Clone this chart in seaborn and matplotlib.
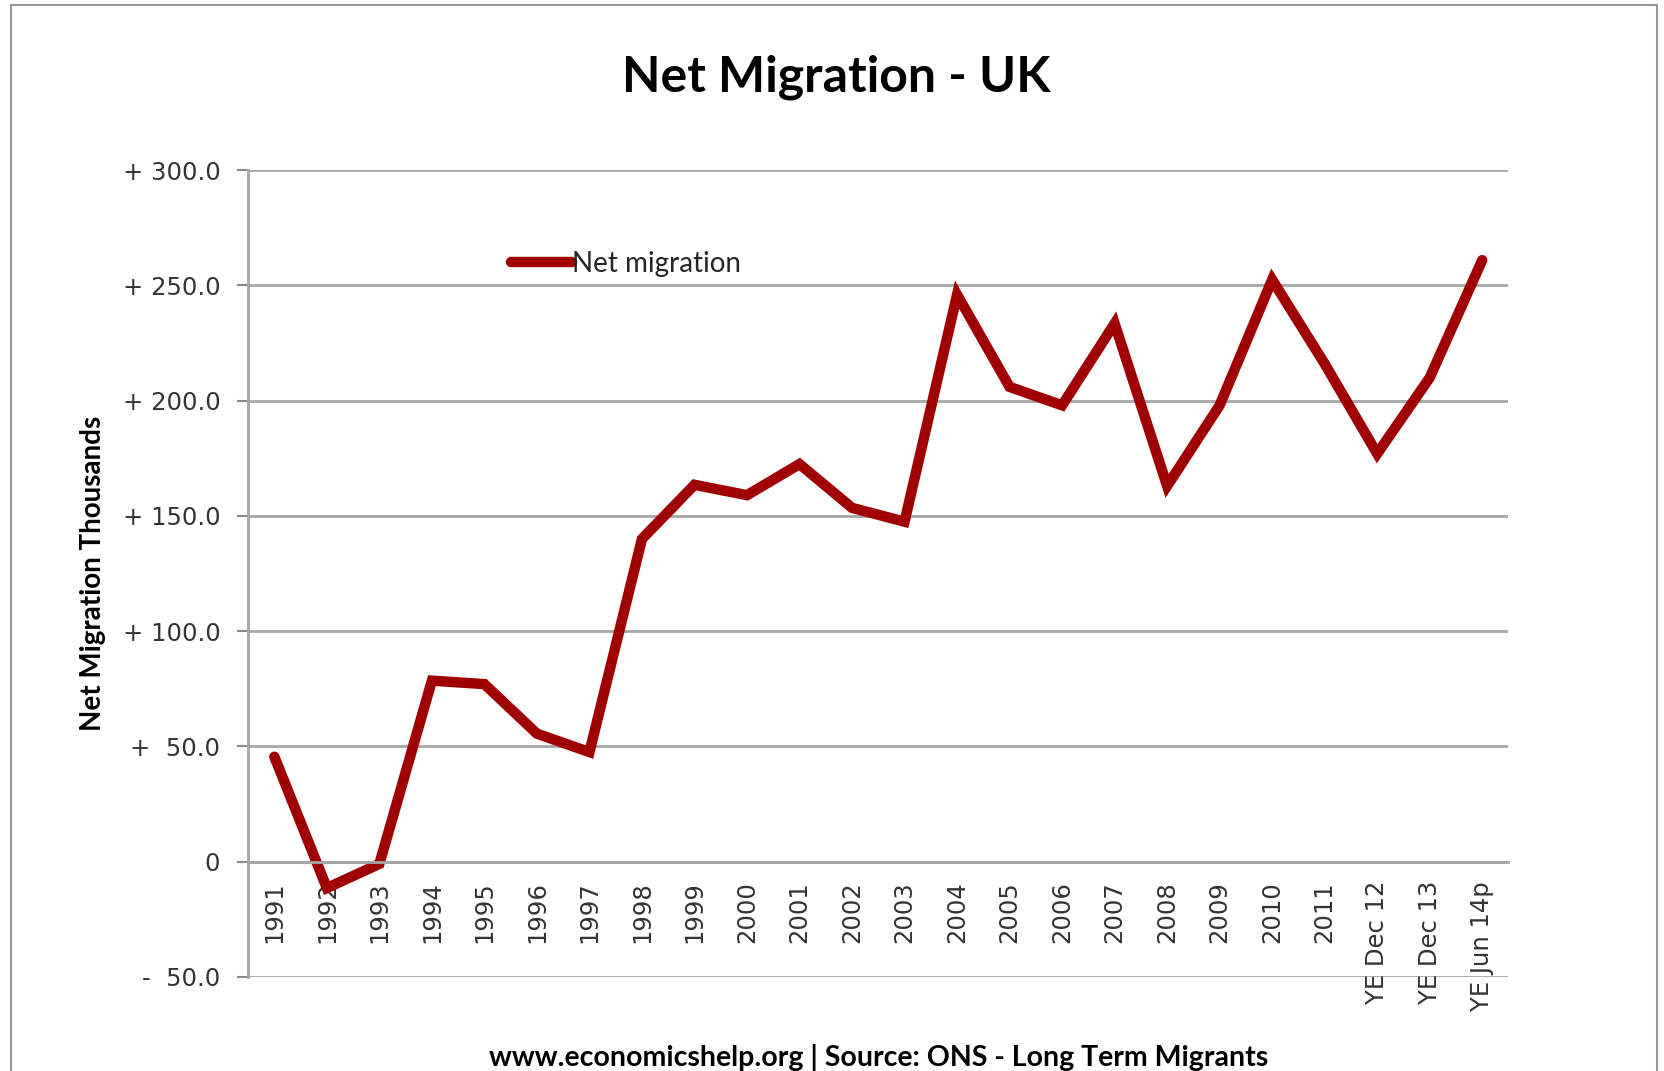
import pandas as pd
import matplotlib.pyplot as plt
import seaborn as sns
from matplotlib.patches import Rectangle

# Dữ liệu di cư ròng (nghìn người)
periods = ['1991', '1992', '1993', '1994', '1995', '1996', '1997', '1998',
           '1999', '2000', '2001', '2002', '2003', '2004', '2005', '2006',
           '2007', '2008', '2009', '2010', '2011', 'YE Dec 12', 'YE Dec 13',
           'YE Jun 14p']
net_migration = [45.5, -11.5, -1.0, 78.5, 77.0, 55.5, 47.5, 140.0,
                 163.5, 159.0, 172.5, 153.5, 147.5, 246.0, 206.0, 198.0,
                 233.5, 163.0, 198.0, 252.5, 216.0, 177.0, 210.0, 261.0]
y_ticks = [-50, 0, 50, 100, 150, 200, 250, 300]
y_tick_labels = ['-  50.0', '0', '+  50.0', '+ 100.0', '+ 150.0',
                 '+ 200.0', '+ 250.0', '+ 300.0']

df = pd.DataFrame({'Period': periods, 'Net migration': net_migration})

sns.set_style('white')
plt.rcParams['font.family'] = ['DejaVu Sans']

fig = plt.figure(figsize=(16.65, 10.71), dpi=100)
ax = fig.add_axes([0.149, 0.088, 0.757, 0.753])

line_color = '#a00000'
grid_color = '#a6a6a6'

sns.lineplot(data=df, x='Period', y='Net migration', ax=ax, sort=False,
             color=line_color, linewidth=7.5, label='Net migration',
             solid_joinstyle='miter')

ax.set_xlim(-0.5, len(periods) - 0.5)
ax.set_ylim(-50, 300)
ax.set_yticks(y_ticks)
ax.set_yticklabels(y_tick_labels, fontsize=17.5, color='#333333')

# Lưới ngang
for v in y_ticks:
    ax.axhline(v, color=grid_color, linewidth=2, zorder=0)

# Trục x cắt ở 0
for s in ['top', 'right']:
    ax.spines[s].set_visible(False)
ax.spines['bottom'].set_position(('data', 0))
ax.spines['bottom'].set_color(grid_color)
ax.spines['bottom'].set_linewidth(2)
ax.spines['left'].set_color(grid_color)
ax.spines['left'].set_linewidth(2)

ax.tick_params(axis='y', direction='out', length=8, width=1.5,
               color='#888888', left=True, pad=12)
ax.tick_params(axis='x', length=0, pad=14)
ax.set_xticks(range(len(periods)))
ax.set_xticklabels(periods, rotation=90, fontsize=17.5, color='#333333',
                   ha='center', va='top')

ax.set_xlabel('')
ax.set_ylabel('Net Migration Thousands', fontsize=20, fontweight='bold',
              family='Lato', color='black', labelpad=12)

ax.legend(loc='center left', bbox_to_anchor=(0.189, 0.884), frameon=False,
          handlelength=2.2, handletextpad=0.0,
          prop={'family': 'Lato', 'size': 20})

fig.text(0.502, 0.928, 'Net Migration - UK', ha='center', va='center',
         fontsize=36, fontweight='bold', family='Lato', color='black')
fig.text(0.528, 0.013, 'www.economicshelp.org | Source: ONS - Long Term Migrants',
         ha='center', va='center', fontsize=20.5, fontweight='bold',
         family='Lato', color='black')

# Khung viền ngoài
fig.patches.append(Rectangle((0.0066, -0.05), 0.9885, 1.045,
                             transform=fig.transFigure, fill=False,
                             edgecolor='#9a9a9a', linewidth=1.5))

fig.savefig('out.png', dpi=100)
